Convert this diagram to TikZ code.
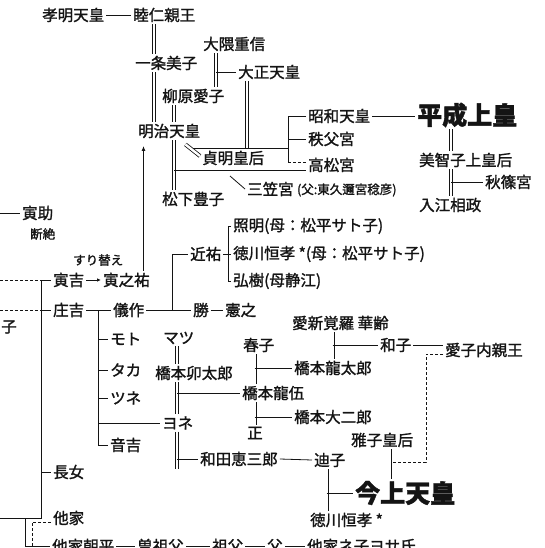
\documentclass[tikz,border=0pt]{standalone}
\usepackage{fontspec}
\setmainfont{Noto Sans CJK JP}[FakeBold=1.5]
\usetikzlibrary{arrows.meta}
\definecolor{treeInk}{RGB}{20,20,20}
\tikzset{
  nm/.style={anchor=west,inner sep=2pt,text=treeInk,font=\fontsize{15.5pt}{18pt}\selectfont},
  bignm/.style={nm,font=\fontsize{25pt}{28pt}\selectfont\bfseries},
  sm/.style={anchor=west,inner sep=1pt,text=treeInk,font=\fontsize{12.5pt}{14pt}\selectfont},
  ln/.style={draw=treeInk,line width=0.8pt},
  wed/.style={ln,double,double distance=2.4pt},
  dsh/.style={ln,dash pattern=on 3pt off 2pt},
}

\begin{document}
\begin{tikzpicture}[x=1pt,y=-1pt]
  \useasboundingbox (0,0) rectangle (544,548);
  % x of the vertical connectors
  \foreach \c/\x in {lft/0, xMei/154, xMj/174, xOk/216, xTai/247, xShw/288, xHei/451,
      xSho/41, xGi/98, xKa/172, xChi/228, xHs/177, xRyu/254.5, xAi/332.5,
      xMs/389.5, xDash/426, xMi/326.5, xArr/143.5, xBa/25, xBb/32}
    \coordinate (\c) at (\x,0);
  \coordinate (bot) at (0,560);
  \coordinate (ym) at (0,462);

  % imperial line
  \node[nm] (komei) at (40,15) {孝明天皇};
  \node[nm] (mutsuhito) at (131,15) {睦仁親王};
  \node[nm] (ichijo) at (133,63) {一条美子};
  \node[nm] (okuma) at (201,44) {大隈重信};
  \node[nm] (taisho) at (236,72) {大正天皇};
  \node[nm] (yanagihara) at (160,96) {柳原愛子};
  \node[nm] (meiji) at (136,131) {明治天皇};
  \node[nm] (teimei) at (200,158) {貞明皇后};
  \node[nm] (showa) at (306,116) {昭和天皇};
  \node[nm] (chichibu) at (306,139) {秩父宮};
  \node[nm] (takamatsu) at (306,165) {高松宮};
  \node[nm] (mikasa) at (245,189) {三笠宮};
  \node[sm] (mikasaf) at ([yshift=-1pt]mikasa.east) {(父:東久邇宮稔彦)};
  \node[nm] (matsushita) at (160,199) {松下豊子};
  \node[bignm] (heisei) at (415,115) {平成上皇};
  \node[nm] (michiko) at (417,160) {美智子上皇后};
  \node[nm] (akishino) at (483,182) {秋篠宮};
  \node[nm] (irie) at (417,205) {入江相政};

  % left family
  \node[nm] (torasuke) at (20,213) {寅助};
  \node[sm] (danzetsu) at (29,234) {断絶};
  \node[sm] (surikae) at (72,260) {すり替え};
  \node[nm] (torakichi) at (51,280) {寅吉};
  \node[nm] (toranosuke) at (101,280) {寅之祐};
  \node[nm] (shokichi) at (51,310) {庄吉};
  \node[nm] (gisaku) at (111,310) {儀作};
  \node[nm] (masaru) at (191,310) {勝};
  \node[nm] (noriyuki) at (223,310) {憲之};
  \node[nm] (chikasuke) at (188,254) {近祐};
  \node[nm] (teruaki) at (231,226) {照明(母：松平サト子)};
  \node[nm] (tsunenari) at (231,254) {徳川恒孝 *(母：松平サト子)};
  \node[nm] (hiroki) at (231,281) {弘樹(母静江)};
  \node[nm] (moto) at (108,339) {モト};
  \node[nm] (taka) at (108,370) {タカ};
  \node[nm] (tsune) at (108,398) {ツネ};
  \node[nm] (yone) at (160,423) {ヨネ};
  \node[nm] (otokichi) at (108,445) {音吉};
  \node[nm] (chojo) at (51,472) {長女};
  \node[nm] (take) at (51,518) {他家};
  \node[nm,anchor=east] (cutko) at (19,327) {子};

  % hashimoto / wada
  \node[nm] (matsu) at (161,338) {マツ};
  \node[nm] (utaro) at (153,373) {橋本卯太郎};
  \node[nm] (wada) at (198,459) {和田恵三郎};
  \node[nm] (haruko) at (241,345) {春子};
  \node[nm] (ryugo) at (240,393) {橋本龍伍};
  \node[nm] (ryutaro) at (292,368) {橋本龍太郎};
  \node[nm] (daijiro) at (292,417) {橋本大二郎};
  \node[nm] (tadashi) at (245,433) {正};
  \node[nm] (kakurei) at (290,323) {愛新覚羅 華齢};
  \node[nm] (kazuko) at (378,345) {和子};
  \node[nm] (aiko) at (443,350) {愛子内親王};
  \node[nm] (masako) at (349,440) {雅子皇后};
  \node[nm] (michi) at (312,460) {迪子};
  \node[bignm] (kinjo) at (353,493) {今上天皇};
  \node[nm] (tokugawa) at (308,520) {徳川恒孝 *};

  % bottom row, cut by the page
  \node[nm] (asahira) at (50,546) {他家朝平};
  \node[nm] (sosofu) at (135,546) {曽祖父};
  \node[nm] (sofu) at (210,546) {祖父};
  \node[nm] (chichi) at (265,546) {父};
  \node[nm] (tanin) at (305,546) {他家ネ子ヨサ氏};
  \foreach \a/\b in {asahira/sosofu, sosofu/sofu, sofu/chichi, chichi/tanin}
    \draw[ln] (\a.east) -- (\b.west);

  % imperial connectors
  \draw[ln] (komei.east) -- (mutsuhito.west);
  \draw[wed] (mutsuhito.south -| xMei) -- (ichijo.north -| xMei);
  \draw[wed] (ichijo.south -| xMei) -- (meiji.north -| xMei);
  \draw[wed] (yanagihara.south -| xMj) -- (meiji.north -| xMj);
  \draw[wed] (okuma.south -| xOk) -- (yanagihara.north -| xOk);
  \draw[ln] (taisho.west -| xOk) -- (taisho.west);
  \draw[wed] (taisho.south -| xTai) -- (teimei.north -| xTai);
  \draw[ln] ([xshift=-8pt]teimei.north west) -- (teimei.north -| xShw);
  \coordinate (tkA) at ([yshift=3pt]takamatsu.west);
  \coordinate (tkB) at ([yshift=-5pt]takamatsu.west);
  \draw[ln] (showa.west) -| (tkA -| xShw);
  \draw[ln] (chichibu.west -| xShw) -- (chichibu.west);
  \draw[dsh] (tkA -| xShw) -- (tkA);
  \draw[wed] (meiji.south -| xMj) -- (matsushita.north -| xMj);
  \draw[ln] (tkB -| xMj) -- (tkB);
  \draw[wed] ([xshift=-17pt,yshift=-4pt]meiji.south east) -- ([yshift=2pt]teimei.west);
  \draw[ln] (mikasa.west) -- ++(-15,-13);
  \draw[ln] (showa.east) -- (showa.east -| heisei.west);
  \draw[wed] (heisei.south -| xHei) -- (michiko.north -| xHei);
  \draw[wed] (michiko.south -| xHei) -- (irie.north -| xHei);
  \draw[ln] (akishino.west -| xHei) -- (akishino.west);

  % left connectors
  \draw[ln] (torasuke.west -| lft) -- (torasuke.west);
  \draw[dsh] (torakichi.west -| lft) -- (torakichi.west -| xSho);
  \draw[dsh] (shokichi.west -| lft) -- (shokichi.west -| xSho);
  \draw[ln] (torakichi.west) -| (take.west -| xSho) -- (take.west -| lft);
  \foreach \n in {shokichi,chojo}
    \draw[ln] (\n.west -| xSho) -- (\n.west);
  \draw[ln,-{Latex[length=4pt,width=3.5pt]}] (torakichi.east) -- (toranosuke.west);
  \coordinate (arrTop) at (143.5,146);
  \draw[ln,-{Latex[length=5pt,width=4pt]}] (toranosuke.north -| xArr) -- (arrTop);
  \draw[ln] (shokichi.east) -- (gisaku.west);
  \draw[ln] (shokichi.east -| xGi) |- (otokichi.west);
  \foreach \n in {moto,taka,tsune,yone}
    \draw[ln] (\n.west -| xGi) -- (\n.west);
  \draw[ln] (gisaku.east) -- (masaru.west);
  \draw[ln] (gisaku.east -| xKa) |- (chikasuke.west);
  \draw[ln] (masaru.east) -- (noriyuki.west);
  \draw[ln] (chikasuke.east) -- (tsunenari.west);
  \draw[ln] (teruaki.west) -| (hiroki.west -| xChi) -- (hiroki.west);

  % hashimoto / wada connectors
  \draw[wed] (matsu.south -| xHs) -- (utaro.north -| xHs);
  \draw[wed] (utaro.south -| xHs) -- (yone.north -| xHs);
  \draw[ln] (ryugo.west -| xHs) -- (ryugo.west);
  \coordinate (yoneEnd) at (177,469);
  \draw[wed] (yone.south -| xHs) -- (yoneEnd);
  \draw[ln] (wada.west -| xHs) -- (wada.west);
  \draw[wed] (haruko.south -| xRyu) -- (ryugo.north -| xRyu);
  \draw[ln] (ryutaro.west -| xRyu) -- (ryutaro.west);
  \draw[wed] (ryugo.south -| xRyu) -- (tadashi.north -| xRyu);
  \draw[ln] (daijiro.west -| xRyu) -- (daijiro.west);
  \draw[wed] (kakurei.south -| xAi) -- (ryutaro.north -| xAi);
  \draw[ln] (kazuko.west -| xAi) -- (kazuko.west);
  \draw[ln] (kazuko.east) -- (kazuko.east -| aiko.west);
  \coordinate (aikoD) at ([yshift=-4pt]aiko.west);
  \draw[dsh] (aikoD) -| (xDash |- ym) -- (xMs |- ym);
  \draw[wed] (masako.south -| xMs) -- (kinjo.north -| xMs);
  \draw[ln] (wada.east) -- (michi.west);
  \draw[wed] (michi.south -| xMi) -- (tokugawa.north -| xMi);
  \draw[ln] (kinjo.west -| xMi) -- (kinjo.west);

  % bottom corner
  \draw[ln] (take.west -| xBa) |- (asahira.west);
  \coordinate (takeD) at ([yshift=-4pt]take.west);
  \draw[dsh] (takeD) -| (xBb |- bot);
\end{tikzpicture}
\end{document}
